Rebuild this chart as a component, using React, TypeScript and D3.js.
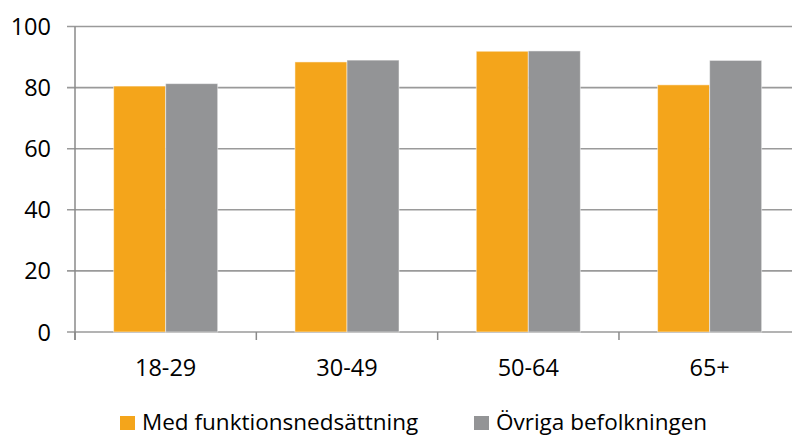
import React from "react";
import * as d3 from "d3";

const categories = ["18-29", "30-49", "50-64", "65+"];
const seriesNames = ["Med funktionsnedsättning", "Övriga befolkningen"];
const medValues = [80.5, 88.4, 91.9, 80.9];
const ovrigaValues = [81.3, 89.0, 92.0, 88.9];
const yTicks = [0, 20, 40, 60, 80, 100];
const colors = ["#F4A51B", "#939496"];

const W = 792;
const H = 435;
const FONT = "'Open Sans', sans-serif";

export default function App() {
  const left = 75;
  const right = 800.3;
  const top = 26.5;
  const bottom = 332;
  const x0 = d3.scaleBand<string>().domain(categories).range([left, right]).padding(0);
  const bw = x0.bandwidth();
  const group = bw * 0.574;
  const off = (bw - group) / 2;
  const x1 = d3.scaleBand<string>().domain(seriesNames).range([off, off + group]).padding(0);
  const y = d3.scaleLinear().domain([0, 100]).range([bottom, top]);
  const series = [medValues, ovrigaValues];

  return (
    <svg width={W} height={H} style={{ position: "absolute", left: 0, top: 0, background: "#fff" }}>
      {yTicks.map((t) => (
        <g key={t}>
          <line x1={67} x2={W} y1={y(t)} y2={y(t)} stroke="#9a9a9a" strokeWidth={1.6} />
          <text x={51} y={y(t) + 8.5} textAnchor="end" fontFamily={FONT} fontSize={23.5} fill="#000">
            {t}
          </text>
        </g>
      ))}
      <line x1={left} x2={left} y1={top} y2={340} stroke="#8a8a8a" strokeWidth={1.5} />
      {categories.map((c, i) => (
        <g key={c}>
          <line x1={x0(c)!} x2={x0(c)!} y1={bottom} y2={340} stroke="#8a8a8a" strokeWidth={1.5} />
          {series.map((vals, s) => (
            <rect
              key={s}
              x={x0(c)! + x1(seriesNames[s])!}
              y={y(vals[i])}
              width={x1.bandwidth()}
              height={bottom - y(vals[i])}
              fill={colors[s]}
              stroke="rgba(255,255,255,0.5)"
              strokeWidth={1}
            />
          ))}
          <text x={x0(c)! + bw / 2} y={375.5} textAnchor="middle" fontFamily={FONT} fontSize={23.5} fill="#000">
            {c}
          </text>
        </g>
      ))}
      {[
        { x: 120, name: seriesNames[0], color: colors[0] },
        { x: 474, name: seriesNames[1], color: colors[1] },
      ].map((l) => (
        <g key={l.name}>
          <rect x={l.x} y={416} width={15} height={14} fill={l.color} />
          <text x={l.x + 22} y={429.5} fontFamily={FONT} fontSize={22.5} fill="#000">
            {l.name}
          </text>
        </g>
      ))}
    </svg>
  );
}
